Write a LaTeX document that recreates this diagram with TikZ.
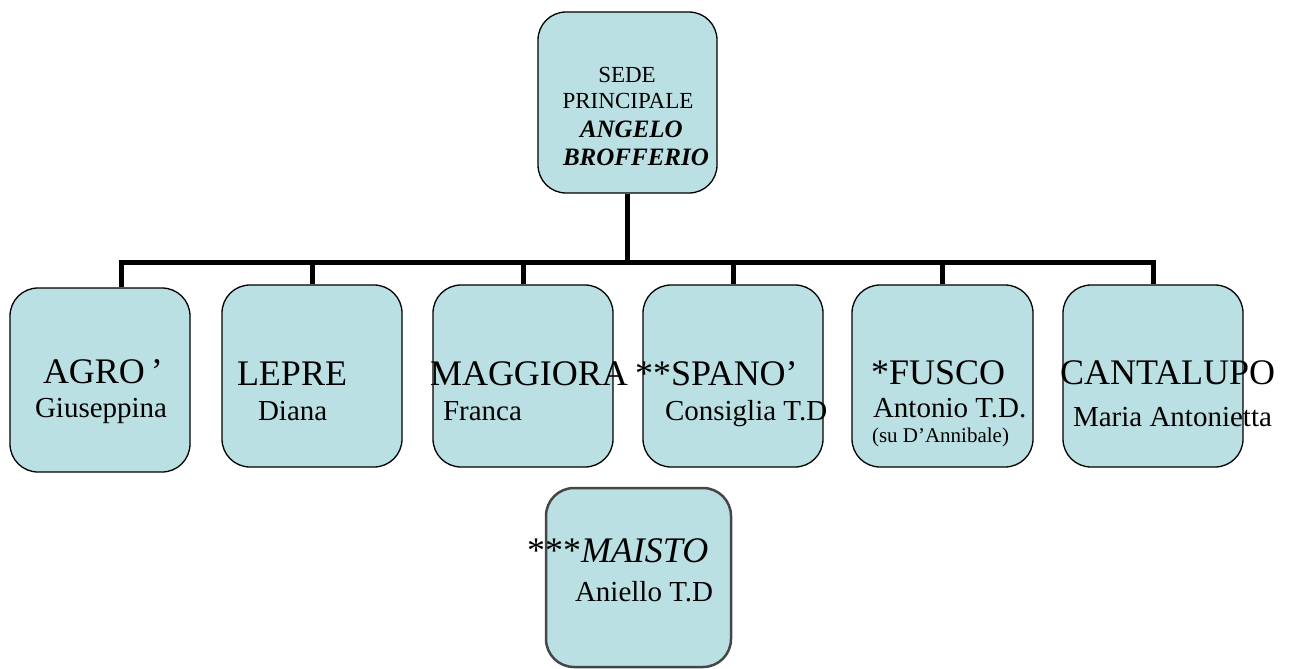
\documentclass[tikz,border=0pt]{standalone}
\usepackage{fontspec}
\setmainfont{Liberation Serif}
\definecolor{boxfill}{RGB}{187,224,227}
\definecolor{boxgray}{RGB}{70,70,70}
\tikzset{
  unitbox/.style={draw=black, line width=1.3pt, fill=boxfill, rounded corners=28pt,
    rectangle, inner sep=0pt, minimum width=180pt, minimum height=182pt},
  link/.style={line width=5pt, draw=black},
  txt/.style={anchor=base west, inner sep=0pt, outer sep=0pt},
  big/.style={txt, font=\fontsize{36}{40}\selectfont},
  mid/.style={txt, font=\fontsize{29}{33}\selectfont},
  small/.style={txt, font=\fontsize{21}{24}\selectfont},
  top/.style={txt, font=\fontsize{23}{26}\selectfont},
  topbi/.style={txt, font=\fontsize{25}{28}\selectfont\bfseries\itshape},
}
\begin{document}
\begin{tikzpicture}[x=1pt, y=-1pt]
\useasboundingbox (0,0) rectangle (1293,669);
% boxes
\node[unitbox, minimum width=179pt, minimum height=181pt] (sede) at (627.5,102.5) {};
\node[unitbox, minimum height=184pt] (b1) at (100,380) {};
\node[unitbox] (b2) at (312,376) {};
\node[unitbox] (b3) at (523,376) {};
\node[unitbox] (b4) at (733,376) {};
\node[unitbox, minimum width=181pt] (b5) at (942.5,376) {};
\node[unitbox] (b6) at (1153,376) {};
\node[unitbox, draw=boxgray, line width=2.5pt, minimum width=185pt, minimum height=179pt] (b7) at (638.5,577.5) {};
% connectors
\coordinate (barL) at (121,262);
\coordinate (barR) at (1153,262);
\draw[link] (sede.south) -- (sede.south |- barL);
\draw[link] (barL |- b1.north) -- (barL) -- (barR) -- (b6.north);
\draw[link] (b2.north) -- (b2.north |- barL);
\draw[link] (b3.north) -- (b3.north |- barL);
\draw[link] (b4.north) -- (b4.north |- barL);
\draw[link] (b5.north) -- (b5.north |- barL);
% texts
\node[top, anchor=base] (t1) at (627,82) {SEDE};
\node[top, anchor=base] (t2) at (628,108) {PRINCIPALE};
\node[topbi] (t3) at (580,137) {ANGELO};
\node[topbi] (t4) at (563,165) {BROFFERIO};
\node[big] (n1) at (43,383) {AGRO\,’};
\node[mid] (f1) at (35,417) {Giuseppina};
\node[big] (n2) at (237,385) {LEPRE};
\node[mid] (f2) at (258,420) {Diana};
\node[big] (n3) at (430,385) {MAGGIORA};
\node[mid] (f3) at (443,420) {Franca};
\node[big] (n4) at (635,385) {**SPANO’};
\node[mid] (f4) at (665,420) {Consiglia T.D};
\node[big] (n5) at (871,384) {*FUSCO};
\node[mid] (f5) at (873,417) {Antonio T.D.};
\node[small] (g5) at (872,442) {(su D’Annibale)};
\node[big] (n6) at (1060,384) {CANTALUPO};
\node[mid] (f6) at (1073,426) {Maria Antonietta};
\node[big] (n7) at (527,562) {***\textit{MAISTO}};
\node[mid] (f7) at (575,601) {Aniello T.D};
\end{tikzpicture}
\end{document}
